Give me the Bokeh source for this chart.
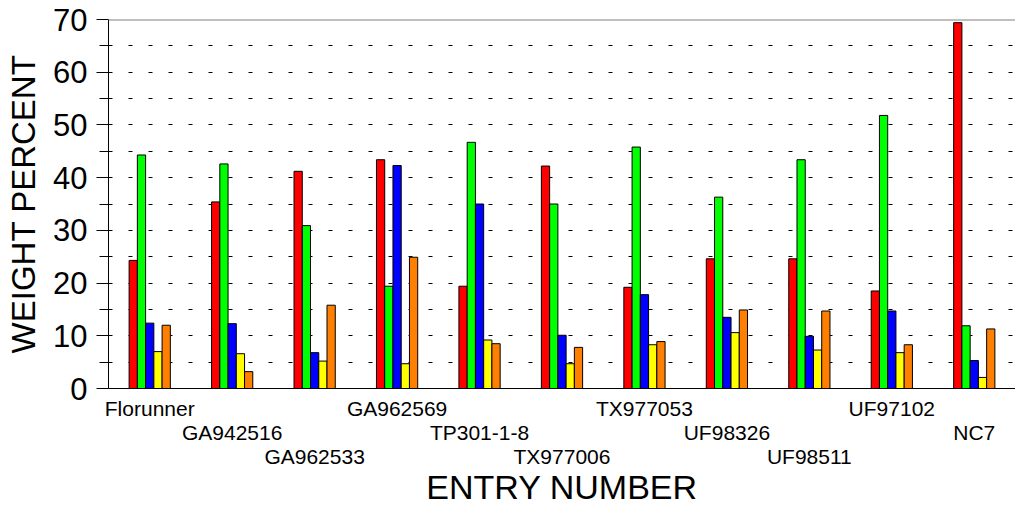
from bokeh.plotting import figure
from bokeh.models import Range1d, FixedTicker, LinearAxis, Span
from bokeh.embed import file_html
from bokeh.resources import INLINE

entries = ["Florunner", "GA942516", "GA962533", "GA962569", "TP301-1-8", "TX977006",
           "TX977053", "UF98326", "UF98511", "UF97102", "NC7"]
red = [24.3, 35.4, 41.2, 43.4, 19.4, 42.2, 19.2, 24.6, 24.6, 18.5, 69.4]
green = [44.3, 42.6, 30.9, 19.4, 46.7, 35.0, 45.8, 36.3, 43.4, 51.8, 11.9]
blue = [12.4, 12.3, 6.8, 42.3, 35.0, 10.1, 17.8, 13.5, 9.9, 14.7, 5.3]
yellow = [7.0, 6.6, 5.2, 4.7, 9.2, 4.7, 8.3, 10.6, 7.3, 6.8, 2.1]
orange = [12.0, 3.2, 15.8, 24.9, 8.5, 7.8, 8.9, 14.9, 14.7, 8.3, 11.3]
series = [red, green, blue, yellow, orange]
series_colors = ["#FF0000", "#00FF00", "#0000FF", "#FFFF00", "#FF8000"]
y_ticks = [0, 10, 20, 30, 40, 50, 60, 70]
y_minor = [5, 15, 25, 35, 45, 55, 65]
grid_levels = [5, 10, 15, 20, 25, 30, 35, 40, 45, 50, 55, 60, 65]

FONT = "Liberation Sans"
n = len(entries)
bar_w = 0.1

p = figure(output_backend="svg", toolbar_location=None,
           frame_width=907, frame_height=369,
           x_range=Range1d(-0.5, 10.5), y_range=Range1d(0, 70),
           min_border_left=108, min_border_top=19, min_border_right=0, min_border_bottom=0)
p.outline_line_color = None
p.background_fill_color = "white"
p.xgrid.visible = False

for k, (vals, col) in enumerate(zip(series, series_colors)):
    xs = [i + (k - 2) * bar_w for i in range(n)]
    p.vbar(x=xs, top=vals, width=bar_w, bottom=0, fill_color=col,
           line_color="black", line_width=1)

# grid
p.ygrid.ticker = FixedTicker(ticks=grid_levels)
p.ygrid.grid_line_color = "black"
p.ygrid.grid_line_dash = "4 16"
p.ygrid.grid_line_width = 1

p.add_layout(Span(location=70, dimension="width", line_color="#808080", line_width=2))

# y axis
ya = p.yaxis[0]
ya.ticker = FixedTicker(ticks=y_ticks, minor_ticks=y_minor)
ya.major_tick_out = 12
ya.major_tick_in = 0
ya.minor_tick_out = 9
ya.minor_tick_in = 0
ya.axis_line_color = "black"
ya.major_tick_line_color = "black"
ya.minor_tick_line_color = "black"
ya.major_label_text_font = FONT
ya.major_label_text_font_size = "31px"
ya.major_label_text_color = "black"
ya.major_label_standoff = 9
ya.axis_label = "WEIGHT PERCENT"
ya.axis_label_text_font = FONT
ya.axis_label_text_font_size = "33px"
ya.axis_label_text_font_style = "normal"
ya.axis_label_text_color = "black"
ya.axis_label_standoff = 8

# x axes: three staggered rows of entry labels
rows = [[0, 3, 6, 9], [1, 4, 7, 10], [2, 5, 8]]
xa = p.xaxis[0]
axes = [xa, LinearAxis(), LinearAxis()]
for r, ax in enumerate(axes):
    ax.ticker = FixedTicker(ticks=rows[r], minor_ticks=[])
    ax.major_label_overrides = {i: entries[i] for i in rows[r]}
    ax.major_tick_out = 0
    ax.major_tick_in = 0
    ax.minor_tick_out = 0
    ax.minor_tick_in = 0
    ax.major_label_text_font = FONT
    ax.major_label_text_font_size = "21px"
    ax.major_label_text_color = "black"
    if r == 0:
        ax.axis_line_color = "black"
        ax.major_label_standoff = 8
    else:
        ax.axis_line_color = None
        ax.major_label_standoff = -2
    if r > 0:
        p.add_layout(ax, "below")

axes[2].axis_label = "ENTRY NUMBER"
axes[2].axis_label_text_font = FONT
axes[2].axis_label_text_font_size = "34px"
axes[2].axis_label_text_font_style = "normal"
axes[2].axis_label_text_color = "black"
axes[2].axis_label_standoff = -3

open("out.html", "w").write(file_html(p, INLINE))
